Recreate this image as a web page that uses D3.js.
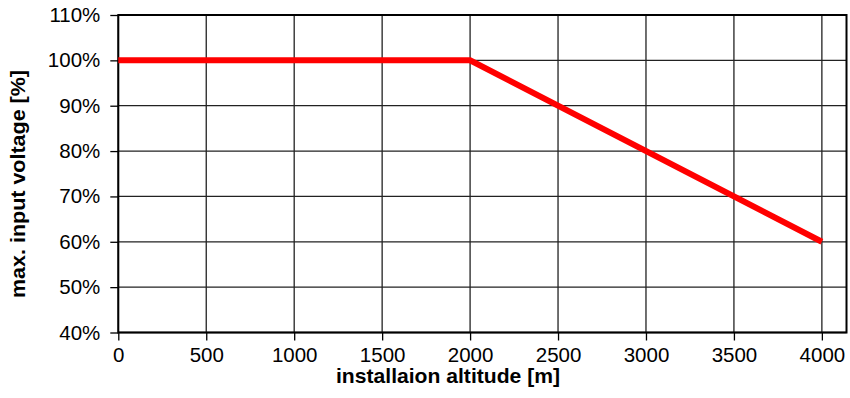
<!DOCTYPE html>
<html><head><meta charset="utf-8">
<script src="https://cdn.jsdelivr.net/npm/d3@7"></script>
<style>body{margin:0;background:#fff}svg{display:block}</style>
</head><body>
<svg id="c" width="850" height="398"></svg>
<script>
const altitude = [0, 2000, 4000];
const voltage = [100, 100, 60];
const xTicks = [0, 500, 1000, 1500, 2000, 2500, 3000, 3500, 4000];
const yTicks = [40, 50, 60, 70, 80, 90, 100, 110];
const xTitle = "installaion altitude [m]";
const yTitle = "max. input voltage [%]";

const svg = d3.select("#c");
const L = 118.3, R = 846.5, T = 15, B = 332.5;
const x = d3.scaleLinear().domain([0, 4140]).range([L, R]);
const y = d3.scaleLinear().domain([40, 110]).range([B, T]);
const font = "'Liberation Sans', Arial, Helvetica, sans-serif";

// grid
const g = svg.append("g");
g.selectAll("line.v").data(xTicks).join("line")
  .attr("x1", d => x(d)).attr("x2", d => x(d)).attr("y1", T).attr("y2", B)
  .attr("stroke", "#222").attr("stroke-width", 1.3);
g.selectAll("line.h").data(yTicks).join("line")
  .attr("x1", L).attr("x2", R).attr("y1", d => y(d)).attr("y2", d => y(d))
  .attr("stroke", "#222").attr("stroke-width", 1.3);

// axes
const xAxis = d3.axisBottom(x).tickValues(xTicks).tickSize(8).tickPadding(7).tickFormat(d3.format("d"));
const yAxis = d3.axisLeft(y).tickValues(yTicks).tickSize(8).tickPadding(10).tickFormat(d => d + "%");
const gx = svg.append("g").attr("transform", `translate(0,${B})`).call(xAxis);
const gy = svg.append("g").attr("transform", `translate(${L},0)`).call(yAxis);
[gx, gy].forEach(a => {
  a.select(".domain").remove();
  a.selectAll(".tick line").attr("stroke", "#000").attr("stroke-width", 1.3);
  a.selectAll(".tick text").attr("fill", "#000").style("font-family", font).style("font-size", "20.5px");
});

// border
svg.append("rect").attr("x", L).attr("y", T).attr("width", R - L).attr("height", B - T)
  .attr("fill", "none").attr("stroke", "#000").attr("stroke-width", 2);

// line
const data = altitude.map((a, i) => [a, voltage[i]]);
svg.append("path").datum(data)
  .attr("d", d3.line().x(d => x(d[0])).y(d => y(d[1])))
  .attr("fill", "none").attr("stroke", "#ff0000").attr("stroke-width", 6)
  .attr("stroke-linejoin", "miter").attr("stroke-linecap", "butt");

// titles
svg.append("text").attr("x", 448).attr("y", 383).attr("text-anchor", "middle")
  .attr("textLength", 224).attr("lengthAdjust", "spacingAndGlyphs")
  .style("font-family", font).style("font-size", "21px").style("font-weight", "bold").text(xTitle);
svg.append("text").attr("transform", `translate(24.5,184) rotate(-90)`).attr("text-anchor", "middle")
  .attr("textLength", 228).attr("lengthAdjust", "spacingAndGlyphs")
  .style("font-family", font).style("font-size", "21px").style("font-weight", "bold").text(yTitle);
</script>
</body></html>
